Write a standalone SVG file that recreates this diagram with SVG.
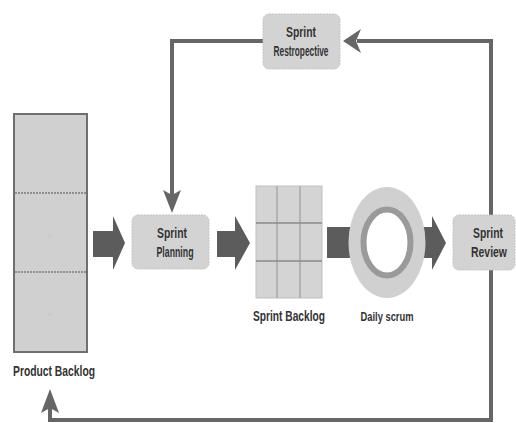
<svg xmlns="http://www.w3.org/2000/svg" width="516" height="423" viewBox="0 0 516 423">
<style>
.box{fill:#d3d3d3;stroke:#c4c4c4;stroke-width:1;stroke-dasharray:2 1}
.lbl{font-family:"Liberation Sans",Arial,sans-serif;font-weight:bold;font-size:14px;fill:#333;text-anchor:middle}
.sm{font-size:12px}
.line{fill:none;stroke:#666;stroke-width:4}
.head{fill:#666}
.fat{fill:#5c5c5c}
</style>
<rect width="516" height="423" fill="#fff"/>
<g id="connectors">
<path class="line" d="M491,215 V41 H357"/>
<path class="head" d="M343,41 L361,29 L356,41 L361,53 Z"/>
<path class="line" d="M263,41 H172 V196"/>
<path class="head" d="M172,213 L163,190 L172,195 L181,190 Z"/>
<path class="line" d="M491,269 V420 H50 V406"/>
<path class="head" d="M50,389 L41,413 L50,408 L59,413 Z"/>
<path class="fat" d="M93,231 H113 V216 L125,243 L113,270 V257 H93 Z"/>
<path class="fat" d="M217,231 H235 V216 L250,243 L235,270 V257 H217 Z"/>
<path class="fat" d="M327,227 H432 V216 L446,243 L432,270 V258 H327 Z"/>
</g>
<g id="product-backlog">
<rect x="14" y="114" width="73" height="238" fill="#d0d0d0" stroke="#6f6f6f" stroke-width="2"/>
<line x1="15" y1="193" x2="86" y2="193" stroke="#7a7a7a" stroke-width="1.5" stroke-dasharray="2 1"/>
<line x1="15" y1="272" x2="86" y2="272" stroke="#7a7a7a" stroke-width="1.5" stroke-dasharray="2 1"/>
<text x="50" y="237" font-family="Liberation Sans,sans-serif" font-size="4" fill="#999" text-anchor="middle">...</text>
<text x="50" y="315" font-family="Liberation Sans,sans-serif" font-size="4" fill="#999" text-anchor="middle">...</text>
<text class="lbl" x="54" y="376" textLength="82" lengthAdjust="spacingAndGlyphs">Product Backlog</text>
</g>
<g id="sprint-retrospective">
<rect class="box" x="263" y="14" width="77" height="55" rx="6"/>
<text class="lbl" x="301" y="37" textLength="30" lengthAdjust="spacingAndGlyphs">Sprint</text>
<text class="lbl" x="301" y="56" textLength="55" lengthAdjust="spacingAndGlyphs">Restropective</text>
</g>
<g id="sprint-planning">
<rect class="box" x="132" y="215" width="77" height="54" rx="6"/>
<text class="lbl" x="172" y="238" textLength="30" lengthAdjust="spacingAndGlyphs">Sprint</text>
<text class="lbl" x="175" y="257" textLength="37" lengthAdjust="spacingAndGlyphs">Planning</text>
</g>
<g id="sprint-backlog">
<rect x="256" y="186" width="66" height="112" fill="#d4d4d4" stroke="#c0c0c0" stroke-width="1"/>
<line x1="277" y1="186" x2="277" y2="298" stroke="#a8a8a8" stroke-width="1.5"/>
<line x1="300" y1="186" x2="300" y2="298" stroke="#a8a8a8" stroke-width="1.5"/>
<line x1="256" y1="223" x2="322" y2="223" stroke="#8a8a8a" stroke-width="1.5"/>
<line x1="256" y1="261" x2="322" y2="261" stroke="#8a8a8a" stroke-width="1.5"/>
<text class="lbl" x="289" y="321" textLength="72" lengthAdjust="spacingAndGlyphs">Sprint Backlog</text>
</g>
<g id="daily-scrum">
<ellipse cx="387" cy="242.5" rx="38.5" ry="55.5" fill="#d0d0d0"/>
<ellipse cx="387" cy="242.5" rx="23.5" ry="33" fill="#fff" stroke="#9a9a9a" stroke-width="6"/>
<text class="lbl sm" x="387" y="321" textLength="53" lengthAdjust="spacingAndGlyphs">Daily scrum</text>
</g>
<g id="sprint-review">
<rect class="box" x="453" y="215" width="62" height="55" rx="6"/>
<text class="lbl" x="488" y="238" textLength="30" lengthAdjust="spacingAndGlyphs">Sprint</text>
<text class="lbl" x="489" y="257" textLength="36" lengthAdjust="spacingAndGlyphs">Review</text>
</g>
</svg>
